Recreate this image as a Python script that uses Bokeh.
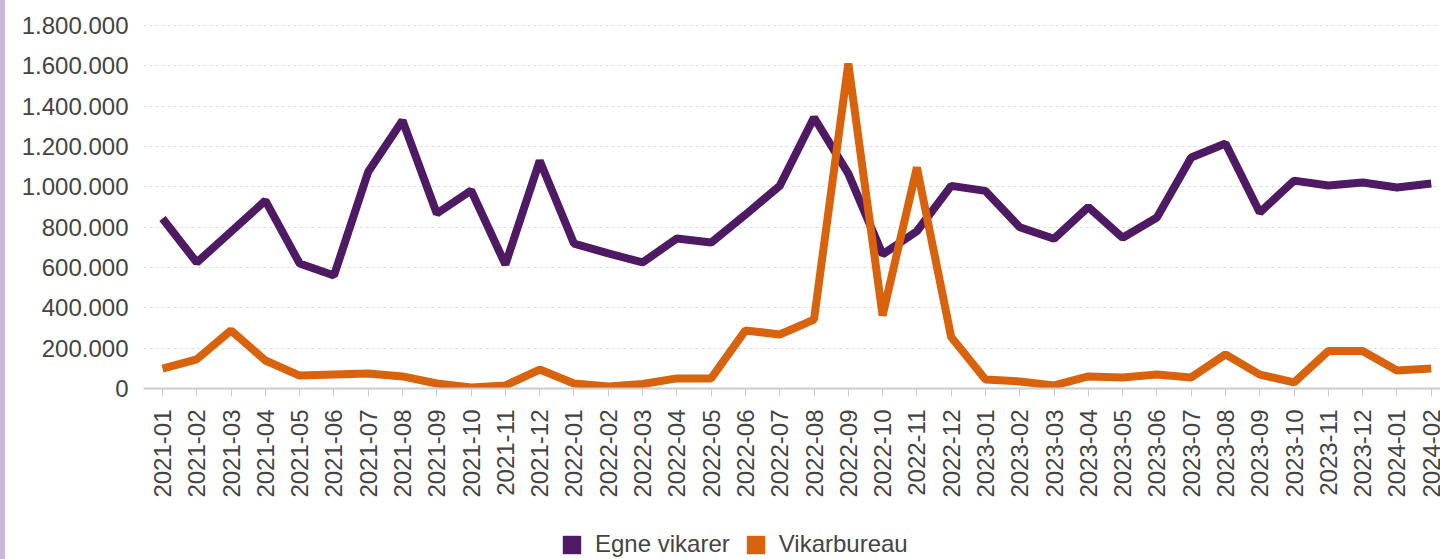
from bokeh.plotting import figure
from bokeh.models import (Range1d, FixedTicker, Legend, LegendItem, Div, ColumnDataSource)
from bokeh.layouts import row, column
from bokeh.embed import file_html
from bokeh.resources import INLINE
import math

months = ["2021-01", "2021-02", "2021-03", "2021-04", "2021-05", "2021-06", "2021-07", "2021-08",
          "2021-09", "2021-10", "2021-11", "2021-12", "2022-01", "2022-02", "2022-03", "2022-04",
          "2022-05", "2022-06", "2022-07", "2022-08", "2022-09", "2022-10", "2022-11", "2022-12",
          "2023-01", "2023-02", "2023-03", "2023-04", "2023-05", "2023-06", "2023-07", "2023-08",
          "2023-09", "2023-10", "2023-11", "2023-12", "2024-01", "2024-02"]

egne_vikarer = [843000, 625000, 778000, 932000, 620000, 560000, 1075000, 1329000, 868000, 982000,
                615000, 1130000, 719000, 670000, 625000, 744000, 724000, 862000, 1005000, 1344000,
                1066000, 665000, 780000, 1005000, 980000, 800000, 743000, 900000, 748000, 848000,
                1146000, 1215000, 873000, 1031000, 1007000, 1022000, 997000, 1017000]

vikarbureau = [99000, 145000, 288000, 139000, 64000, 69000, 74000, 60000, 25000, 5000,
               15000, 94000, 25000, 10000, 22000, 50000, 50000, 288000, 268000, 342000,
               1612000, 362000, 1096000, 255000, 45000, 35000, 15000, 60000, 55000, 69000,
               55000, 169000, 69000, 30000, 186000, 186000, 89000, 99000]

y_ticks = [0, 200000, 400000, 600000, 800000, 1000000, 1200000, 1400000, 1600000, 1800000]
y_tick_labels = ["0", "200.000", "400.000", "600.000", "800.000", "1.000.000",
                 "1.200.000", "1.400.000", "1.600.000", "1.800.000"]

series_names = ["Egne vikarer", "Vikarbureau"]
colors = ["#4e1a63", "#d9620d"]

FONT = "Liberation Sans"
TXT = "#444444"

x_idx = list(range(len(months)))

p = figure(width=1435, height=510, output_backend="svg", toolbar_location=None,
           x_range=Range1d(-0.554, 37.27), y_range=Range1d(0, 1850000),
           min_border_left=138, min_border_right=0, min_border_top=15, min_border_bottom=122)
p.margin = 0
p.outline_line_color = None
p.background_fill_color = "white"
p.border_fill_color = "white"

p.xgrid.grid_line_color = None
p.ygrid.grid_line_color = "#dddddd"
p.ygrid.grid_line_dash = "3 3"
p.ygrid.grid_line_width = 1

p.yaxis.ticker = FixedTicker(ticks=y_ticks)
p.yaxis.major_label_overrides = {t: l for t, l in zip(y_ticks, y_tick_labels)}
p.yaxis.axis_line_color = None
p.yaxis.major_tick_line_color = None
p.yaxis.minor_tick_line_color = None
p.yaxis.major_tick_out = 0
p.yaxis.major_tick_in = 0
p.yaxis.major_label_standoff = 15
p.yaxis.major_label_text_font = FONT
p.yaxis.major_label_text_font_size = "24px"
p.yaxis.major_label_text_color = TXT

p.xaxis.ticker = FixedTicker(ticks=x_idx)
p.xaxis.major_label_overrides = {i: m for i, m in zip(x_idx, months)}
p.xaxis.major_label_orientation = math.pi / 2
p.xaxis.axis_line_color = "#cccccc"
p.xaxis.axis_line_width = 2
p.xaxis.major_tick_line_color = "#cccccc"
p.xaxis.major_tick_line_width = 1
p.xaxis.major_tick_out = 8
p.xaxis.major_tick_in = 0
p.xaxis.minor_tick_line_color = None
p.xaxis.major_label_standoff = 13
p.xaxis.major_label_text_font = FONT
p.xaxis.major_label_text_font_size = "24px"
p.xaxis.major_label_text_color = TXT

src = ColumnDataSource(dict(x=x_idx, egne=egne_vikarer, vikar=vikarbureau))
p.line("x", "egne", source=src, line_color=colors[0], line_width=8)
p.line("x", "vikar", source=src, line_color=colors[1], line_width=8)

# separate strip for the legend (square swatches)
lg = figure(width=1435, height=49, output_backend="svg", toolbar_location=None,
            x_range=Range1d(0, 1), y_range=Range1d(0, 1),
            min_border_left=0, min_border_right=0, min_border_top=0, min_border_bottom=0)
lg.margin = 0
lg.axis.visible = False
lg.grid.visible = False
lg.outline_line_color = None
lg.border_fill_color = "white"
lg.background_fill_color = "white"

nan = float("nan")
items = []
for name, c in zip(series_names, colors):
    r = lg.quad(left=[nan], right=[nan], top=[nan], bottom=[nan], fill_color=c, line_color=None)
    items.append(LegendItem(label=name, renderers=[r]))

legend = Legend(items=items, orientation="horizontal", location=(417, 1),
                glyph_width=23, glyph_height=23, label_standoff=12, spacing=14,
                padding=0, margin=0, border_line_color=None, background_fill_alpha=0,
                label_text_font=FONT, label_text_font_size="24px", label_text_color=TXT)
lg.add_layout(legend)

stripe = Div(width=5, height=559, margin=0, styles={"background-color": "#c9b6da"})
layout = row(stripe, column(p, lg, spacing=0), spacing=0)

open("out.html", "w").write(file_html(layout, INLINE))
